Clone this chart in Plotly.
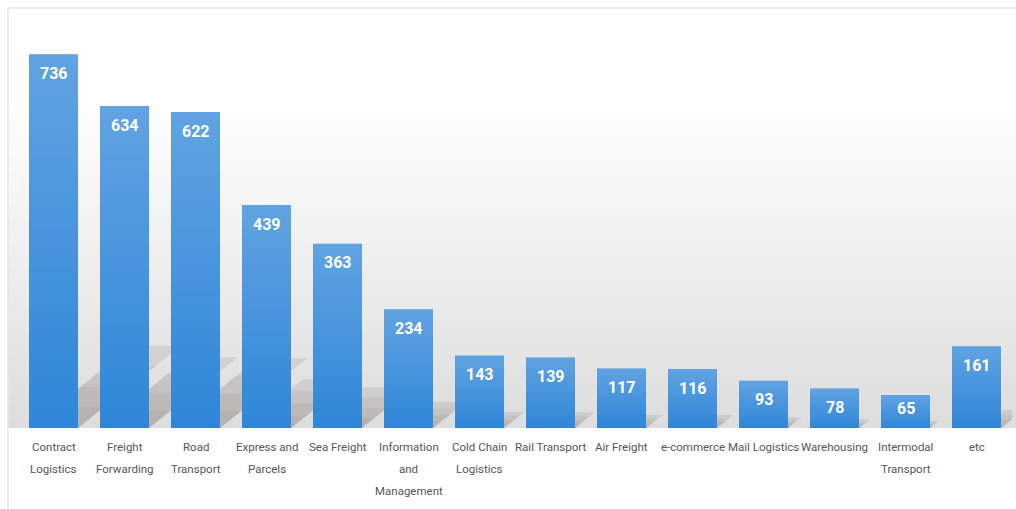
import plotly.graph_objects as go

# Number of companies by logistics segment
categories = [
    "Contract<br>Logistics", "Freight<br>Forwarding", "Road<br>Transport",
    "Express and<br>Parcels", "Sea Freight", "Information<br>and<br>Management",
    "Cold Chain<br>Logistics", "Rail Transport", "Air Freight", "e-commerce",
    "Mail Logistics", "Warehousing", "Intermodal<br>Transport", "etc",
]
values = [736, 634, 622, 439, 363, 234, 143, 139, 117, 116, 93, 78, 65, 161]

W, H = 1016, 509
M_L, M_R, M_T, M_B = 18, 4, 8, 81
Y_MAX = 827
BAR_W = 0.69
BAR_COLOR = "#2f86d8"
LABEL_FONT = "Roboto, Liberation Sans, sans-serif"
LINE_GAP = 22          # pixel distance between wrapped label lines
FIRST_LINE = 19        # pixel distance from the baseline to the first label line

plot_w = W - M_L - M_R
plot_h = H - M_T - M_B
px_per_val = plot_h / Y_MAX
px_per_cat = plot_w / len(values)

x = list(range(len(values)))

fig = go.Figure()

fig.add_trace(go.Bar(
    x=x, y=values, width=BAR_W,
    marker=dict(color=BAR_COLOR, line=dict(width=0)),
    hoverinfo="skip", showlegend=False,
))

# lighter sheen towards the top of each bar
for xi, v in zip(x, values):
    x0, x1 = xi - BAR_W / 2, xi + BAR_W / 2
    fig.add_trace(go.Scatter(
        x=[x0, x1, x1, x0, x0], y=[0, 0, v, v, 0],
        mode="lines", line=dict(width=0), fill="toself",
        fillgradient=dict(
            type="vertical",
            colorscale=[[0, "rgba(255,255,255,0)"], [1, "rgba(255,255,255,0.24)"]],
        ),
        hoverinfo="skip", showlegend=False,
    ))

shapes = []

# soft grey floor behind the bars
band_top_px, band_bot_px = 100, H - M_B
n_bands = 60
for k in range(n_bands):
    t0 = band_top_px + (band_bot_px - band_top_px) * k / n_bands
    t1 = band_top_px + (band_bot_px - band_top_px) * (k + 1) / n_bands
    g = round(255 - 34 * (k + 0.5) / n_bands)
    shapes.append(dict(
        type="rect", xref="paper", yref="paper", layer="below",
        x0=(8 - M_L) / plot_w, x1=(W - M_L) / plot_w,
        y0=(H - M_B - t1) / plot_h, y1=(H - M_B - t0) / plot_h + 0.002,
        fillcolor=f"rgb({g},{g},{g})", line=dict(width=0),
    ))

# diagonal cast shadows, stacked thinner layers so they darken towards the floor
SH_HEIGHT = 0.22
SH_SLANT = 1.25
for xi, v in zip(x, values):
    for frac, alpha in ((1.0, 0.15), (0.75, 0.1), (0.5, 0.1), (0.25, 0.07)):
        h = SH_HEIGHT * v * frac
        dx = SH_SLANT * h * px_per_val / px_per_cat
        x0, x1 = xi - BAR_W / 2, xi + BAR_W / 2
        shapes.append(dict(
            type="path", xref="x", yref="y", layer="below",
            path=f"M {x0},0 L {x1},0 L {x1 + dx},{h} L {x0 + dx},{h} Z",
            fillcolor=f"rgba(115,104,96,{alpha})", line=dict(width=0),
        ))

# thin frame along the top and left edges
shapes.append(dict(type="line", xref="paper", yref="paper",
                   x0=(8 - M_L) / plot_w, x1=(W - M_L) / plot_w, y0=1, y1=1,
                   line=dict(color="#e3e3e3", width=1.5)))
shapes.append(dict(type="line", xref="paper", yref="paper",
                   x0=(8 - M_L) / plot_w, x1=(8 - M_L) / plot_w,
                   y0=1, y1=-M_B / plot_h,
                   line=dict(color="#e6e6e6", width=1.5)))

annotations = []

# value labels inside the top of each bar
for xi, v in zip(x, values):
    bar_px = v * px_per_val
    shift = min(19, bar_px - 20)
    annotations.append(dict(
        x=xi, y=v, xref="x", yref="y", text=f"<b>{v}</b>", showarrow=False,
        yanchor="middle", yshift=-shift,
        font=dict(family=LABEL_FONT, size=16, color="white"),
    ))

# category labels under the bars, one line per annotation for wide line spacing
for xi, name in zip(x, categories):
    for j, line in enumerate(name.split("<br>")):
        annotations.append(dict(
            x=xi, y=0, xref="x", yref="y", text=line, showarrow=False,
            yanchor="middle", yshift=-(FIRST_LINE + LINE_GAP * j),
            font=dict(family=LABEL_FONT, size=11.5, color="#555555"),
        ))

fig.update_layout(
    width=W, height=H,
    margin=dict(l=M_L, r=M_R, t=M_T, b=M_B, pad=0),
    paper_bgcolor="white", plot_bgcolor="rgba(0,0,0,0)",
    shapes=shapes, annotations=annotations,
    bargap=0.31,
    xaxis=dict(
        range=[-0.5, len(values) - 0.5], tickvals=x, showticklabels=False,
        automargin=False, showgrid=False, zeroline=False, showline=False,
        ticks="", fixedrange=True,
    ),
    yaxis=dict(range=[0, Y_MAX], visible=False, fixedrange=True),
    showlegend=False,
)

fig.write_html("out.html", config={"displayModeBar": False})
